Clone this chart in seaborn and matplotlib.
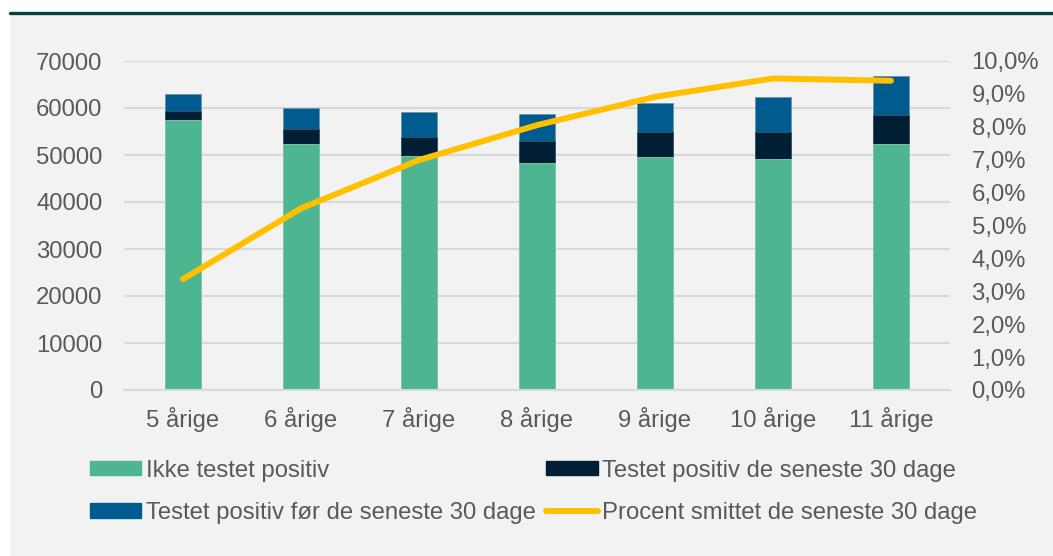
import pandas as pd
import numpy as np
import matplotlib.pyplot as plt
import matplotlib.patches as mpatches
from matplotlib.lines import Line2D
from matplotlib.ticker import FuncFormatter, MultipleLocator
import seaborn as sns

# Data
aldre = ["5 årige", "6 årige", "7 årige", "8 årige", "9 årige", "10 årige", "11 årige"]
ikke_positiv = [57400, 52300, 49700, 48300, 49500, 49200, 52300]
positiv_30 = [2050, 3200, 4200, 4700, 5300, 5800, 6300]
positiv_foer = [3550, 4450, 5300, 5800, 6250, 7400, 8300]
procent_30 = [3.37, 5.52, 6.99, 8.05, 8.91, 9.47, 9.40]

df = pd.DataFrame({"Alder": aldre, "ikke": ikke_positiv,
                   "pos30": positiv_30, "foer": positiv_foer, "pct": procent_30})
df["lag2"] = df["ikke"] + df["pos30"]
df["lag3"] = df["lag2"] + df["foer"]

groen = "#4db58f"
navy = "#001f35"
blaa = "#005b8e"
gul = "#ffc000"
tekst = "#595959"
grid = "#d9d9d9"

sns.set_style("white")
plt.rcParams["font.family"] = ["Liberation Sans", "DejaVu Sans"]
fs = 17.2

fig = plt.figure(figsize=(10.53, 5.56), dpi=100, facecolor="white")
fig.patches.append(mpatches.Rectangle((10 / 1053, 0), 1, 1 - 13 / 556,
                                      transform=fig.transFigure, facecolor="#f2f2f2",
                                      edgecolor="none", zorder=-10))
fig.lines.append(Line2D([10 / 1053, 1], [1 - 13 / 556, 1 - 13 / 556],
                        transform=fig.transFigure, color="#00433a", linewidth=2.4))

ax = fig.add_axes([124 / 1053, 1 - 390 / 556, 826 / 1053, 329 / 556])
ax.set_facecolor("none")

bw = 0.31
sns.barplot(data=df, x="Alder", y="lag3", color=blaa, width=bw, saturation=1,
            edgecolor="#6f93ad", linewidth=0.6, ax=ax)
sns.barplot(data=df, x="Alder", y="lag2", color=navy, width=bw, saturation=1,
            edgecolor="#3d5668", linewidth=0.6, ax=ax)
sns.barplot(data=df, x="Alder", y="ikke", color=groen, width=bw, saturation=1,
            edgecolor="#8fcfb7", linewidth=0.6, ax=ax)

ax.set_ylim(0, 70000)
ax.set_xlim(-0.5, len(aldre) - 0.5)
ax.yaxis.set_major_locator(MultipleLocator(10000))
ax.grid(axis="y", color=grid, linewidth=1.5)
ax.set_axisbelow(True)
for s in ["top", "right", "left"]:
    ax.spines[s].set_visible(False)
ax.spines["bottom"].set_color(grid)
ax.spines["bottom"].set_linewidth(1.5)
ax.set_xlabel("")
ax.set_ylabel("")
ax.tick_params(axis="both", length=0, labelsize=fs, labelcolor=tekst)
ax.tick_params(axis="y", pad=15.5)
ax.tick_params(axis="x", pad=12)

ax2 = ax.twinx()
sns.lineplot(data=df, x="Alder", y="pct", color=gul, linewidth=4.3,
             solid_capstyle="round", ax=ax2)
ax2.set_ylim(0, 10)
ax2.yaxis.set_major_locator(MultipleLocator(1))
ax2.yaxis.set_major_formatter(FuncFormatter(lambda v, p: f"{v:.1f}%".replace(".", ",")))
ax2.tick_params(axis="y", length=0, labelsize=fs, labelcolor=tekst, pad=15.5)
for s in ax2.spines.values():
    s.set_visible(False)
ax2.set_ylabel("")
ax2.set_xlabel("")

handles = [
    mpatches.Patch(color=groen, label="Ikke testet positiv"),
    mpatches.Patch(color=blaa, label="Testet positiv før de seneste 30 dage"),
    mpatches.Patch(color=navy, label="Testet positiv de seneste 30 dage"),
    Line2D([], [], color=gul, linewidth=4.3, label="Procent smittet de seneste 30 dage"),
]
fig.legend(handles=handles, loc="upper left", bbox_to_anchor=(80 / 1053, 1 - 450 / 556),
           ncol=2, frameon=False, fontsize=fs, labelcolor=tekst,
           handlelength=2.15, handleheight=0.55, handletextpad=0.2,
           columnspacing=0.45, labelspacing=0.85, borderaxespad=0)

fig.savefig("out.png", dpi=100, facecolor=fig.get_facecolor())
